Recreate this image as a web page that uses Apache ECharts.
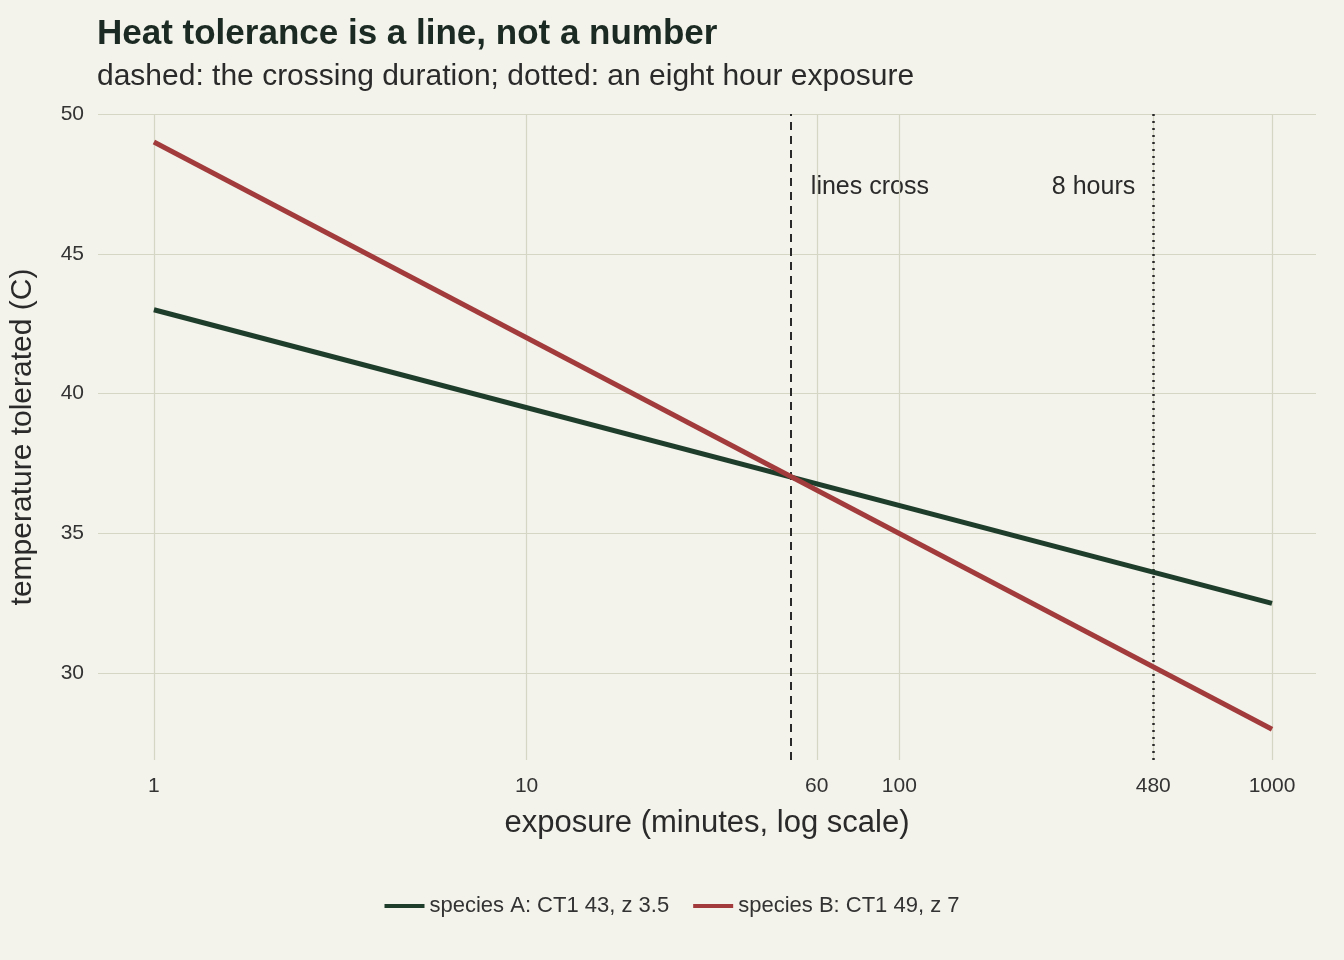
<!DOCTYPE html>
<html>
<head>
<meta charset="utf-8">
<script src="https://cdn.jsdelivr.net/npm/echarts@6/dist/echarts.min.js"></script>
<style>html,body{margin:0;background:#f3f2eb}#chart{width:1344px;height:960px}</style>
</head>
<body>
<div id="chart"></div>
<script>
// exposure in minutes, temperature in C
let speciesA = [[1, 43], [1000, 32.5]];
let speciesB = [[1, 49], [1000, 28]];
let xTicks = [1, 10, 60, 100, 480, 1000];
let yTicks = [30, 35, 40, 45, 50];
let crossAt = 51.8;
let eightHours = 480;

let lg = (v) => Math.log10(v);
let toLog = (arr) => arr.map((p) => [lg(p[0]), p[1]]);

let chart = echarts.init(document.getElementById('chart'));

let font = 'Liberation Sans, Arial, sans-serif';
let gridStyle = { color: '#d6d6c4', width: 1.2, type: 'solid' };

let option = {
    backgroundColor: '#f3f2eb',
    textStyle: { fontFamily: font },
    title: {
        text: 'Heat tolerance is a line, not a number',
        subtext: 'dashed: the crossing duration; dotted: an eight hour exposure',
        left: 92, top: 12,
        textStyle: { fontSize: 35, fontWeight: 'bold', color: '#1b2a22' },
        subtextStyle: { fontSize: 30, color: '#2a2a2a' },
        itemGap: 10
    },
    grid: { left: 96, right: 28, top: 114, bottom: 200 },
    legend: {
        bottom: 38, left: 'center',
        itemWidth: 40, itemHeight: 4, itemGap: 24,
        icon: 'rect',
        textStyle: { fontSize: 22, color: '#333' },
        data: ['species A: CT1 43, z 3.5', 'species B: CT1 49, z 7']
    },
    xAxis: {
        type: 'value', min: -0.15, max: 1.118 + 2,
        name: 'exposure (minutes, log scale)', nameLocation: 'middle', nameGap: 48,
        nameTextStyle: { fontSize: 31, color: '#2a2a2a' },
        axisLine: { show: false }, axisTick: { show: false }, splitLine: { show: false },
        axisLabel: {
            customValues: xTicks.map(lg), fontSize: 21, color: '#333', margin: 16,
            formatter: (v) => String(Math.round(Math.pow(10, v)))
        }
    },
    yAxis: {
        type: 'value', min: 26.9, max: 50,
        name: 'temperature tolerated (C)', nameLocation: 'middle', nameGap: 60,
        nameTextStyle: { fontSize: 30, color: '#2a2a2a' },
        axisLine: { show: false }, axisTick: { show: false }, splitLine: { show: false },
        axisLabel: { customValues: yTicks, fontSize: 21, color: '#333', margin: 14 }
    },
    series: [{
        type: 'line', data: [], silent: true,
        markLine: {
            silent: true, symbol: 'none', label: { show: false },
            lineStyle: gridStyle,
            data: xTicks.map((t) => ({ xAxis: lg(t) })).concat(yTicks.map((t) => ({ yAxis: t })))
        }
    }, {
        name: 'species A: CT1 43, z 3.5', type: 'line', data: toLog(speciesA),
        showSymbol: false, color: '#1f3d2b', lineStyle: { width: 5 }, z: 5
    }, {
        name: 'species B: CT1 49, z 7', type: 'line', data: toLog(speciesB),
        showSymbol: false, color: '#a23b3b', lineStyle: { width: 5 }, z: 6
    }, {
        type: 'line', data: [], silent: true,
        markLine: {
            silent: true, symbol: 'none',
            data: [{
                xAxis: lg(crossAt),
                lineStyle: { color: '#2a2a2a', type: [8, 6], width: 2 },
                label: { show: false }
            }, {
                xAxis: lg(eightHours),
                lineStyle: { color: '#2a2a2a', type: [2, 5], width: 2.5 },
                label: { show: false }
            }]
        }
    }]
};

chart.setOption(option);

let p1 = chart.convertToPixel({ gridIndex: 0 }, [lg(crossAt), 47.4]);
let p2 = chart.convertToPixel({ gridIndex: 0 }, [lg(eightHours), 47.4]);
chart.setOption({
    graphic: [{
        type: 'text', x: p1[0] + 18, y: p1[1],
        style: { text: 'lines cross', fontSize: 25, fill: '#2a2a2a', fontFamily: font, textVerticalAlign: 'middle' }
    }, {
        type: 'text', x: p2[0] - 18, y: p2[1],
        style: { text: '8 hours', fontSize: 25, fill: '#2a2a2a', fontFamily: font, textAlign: 'right', textVerticalAlign: 'middle' }
    }]
});
window.addEventListener('resize', chart.resize);
</script>
</body>
</html>
